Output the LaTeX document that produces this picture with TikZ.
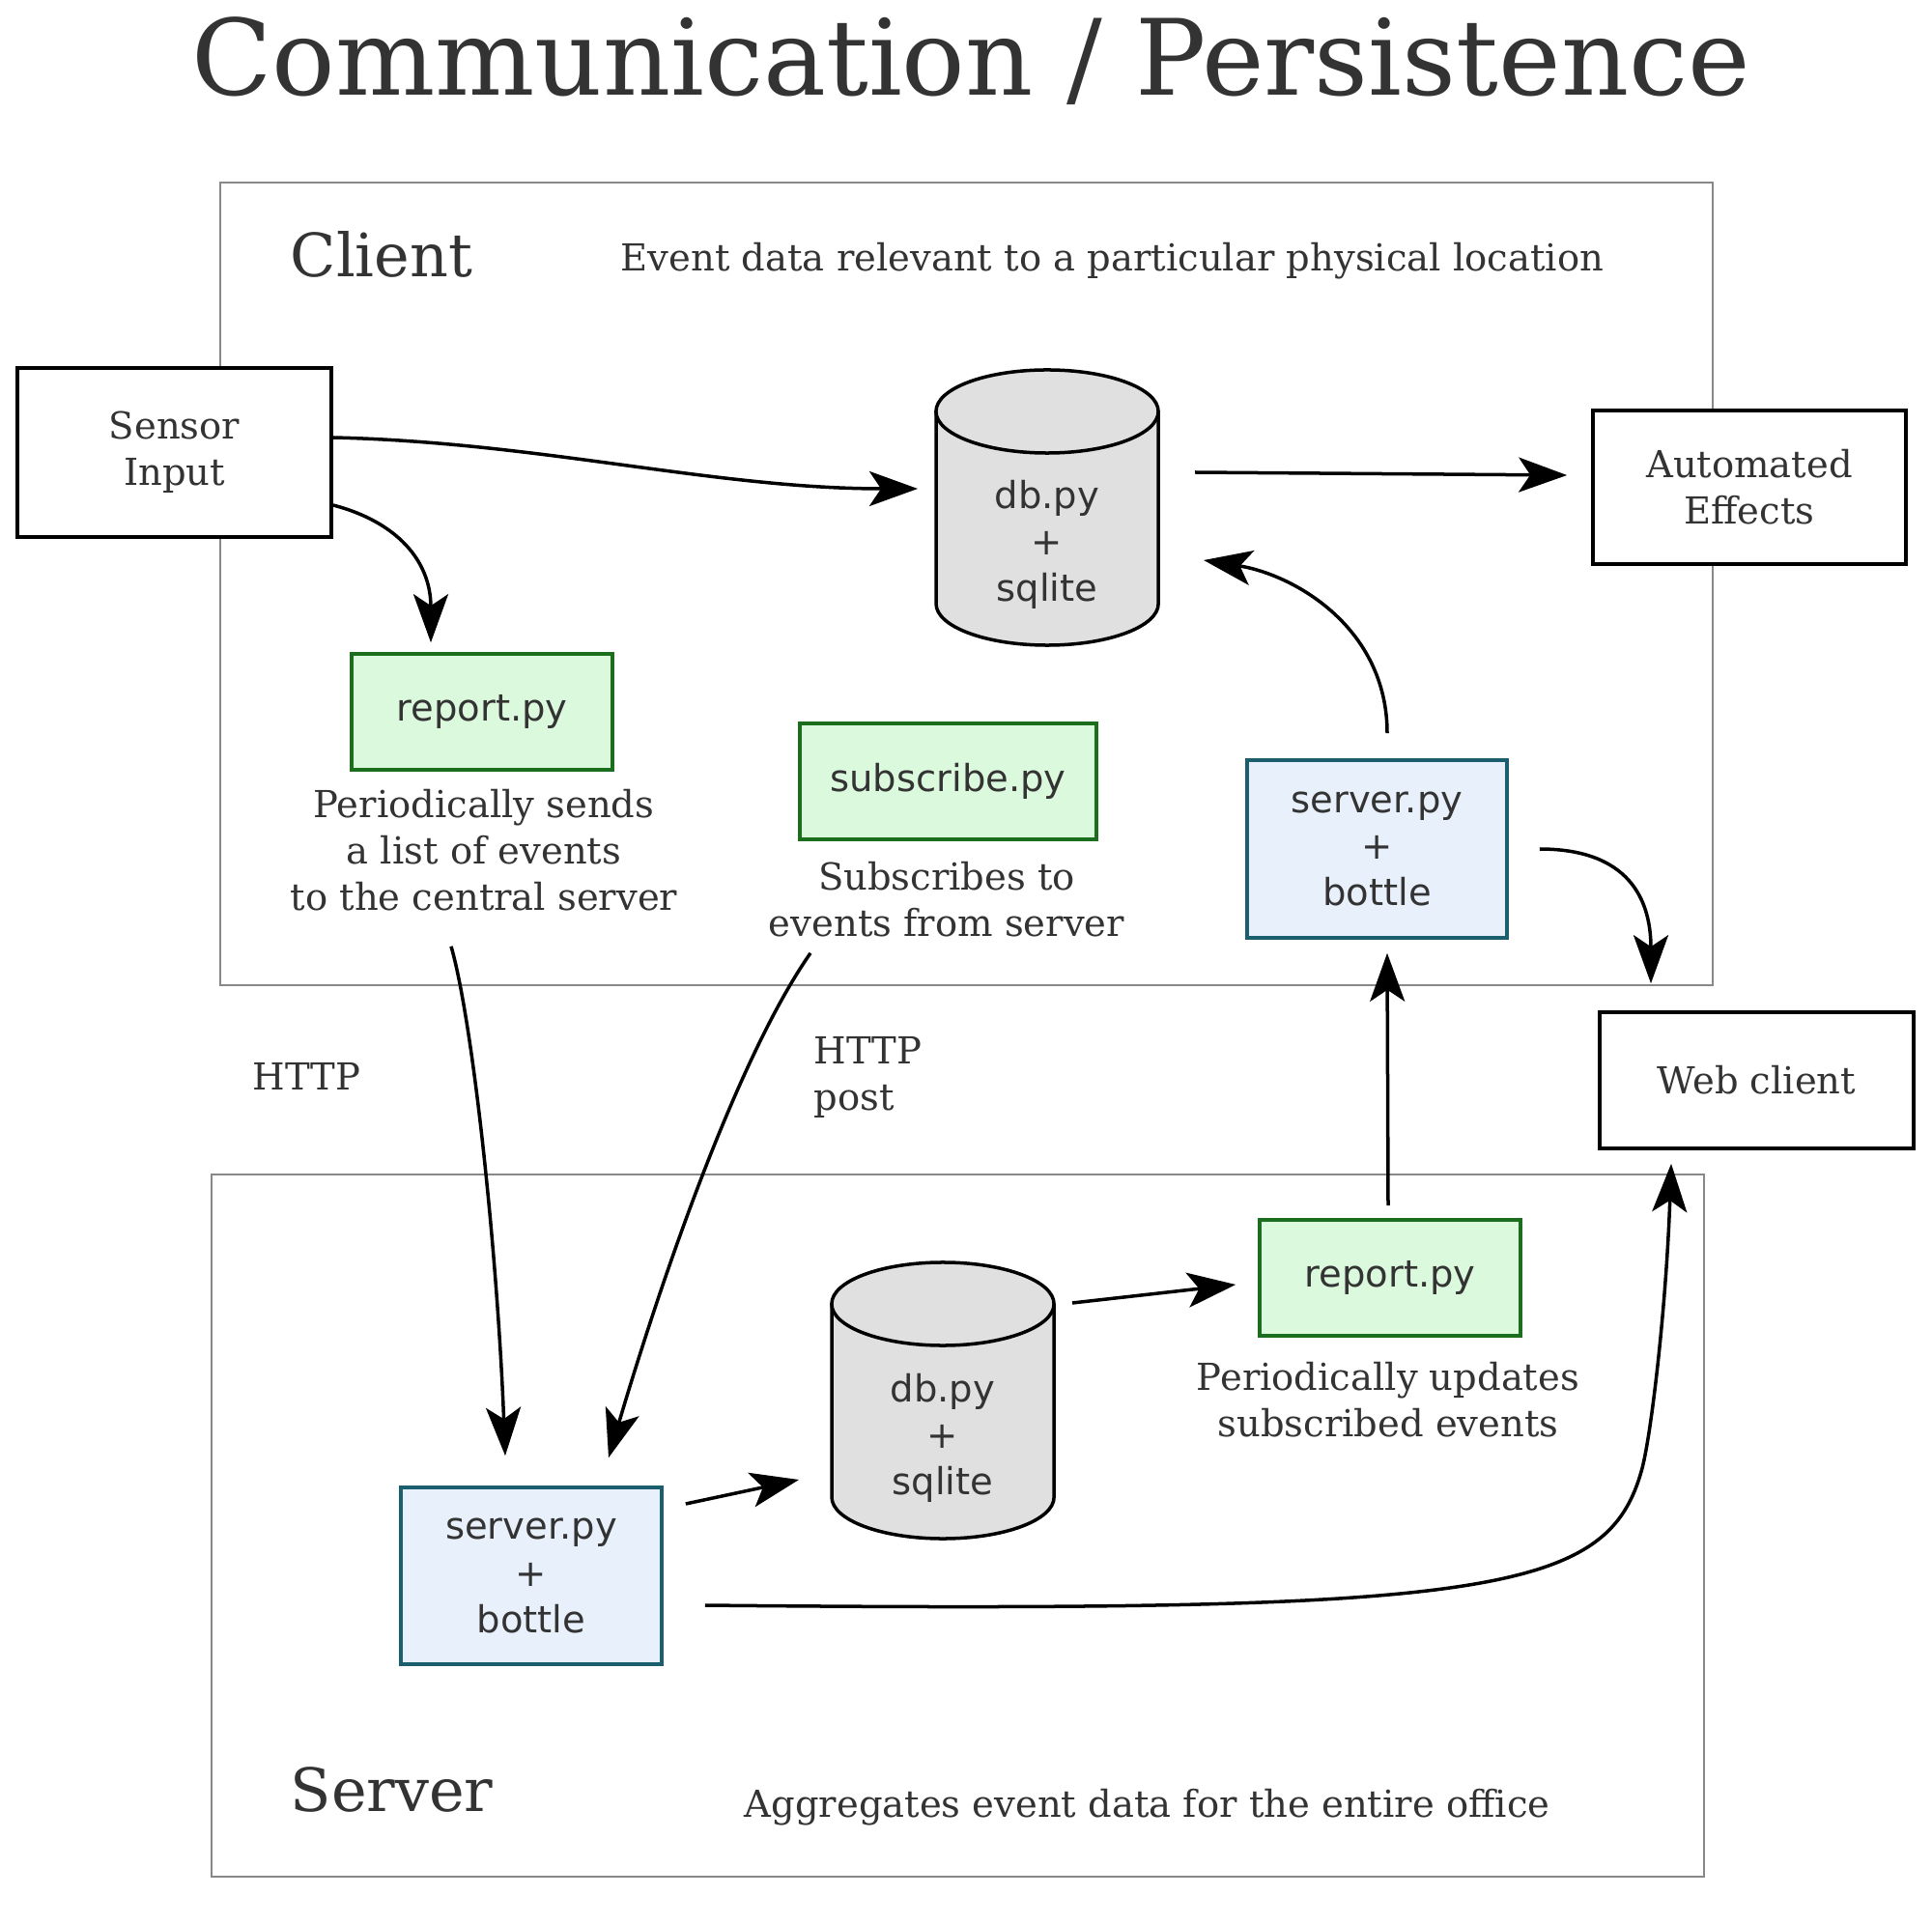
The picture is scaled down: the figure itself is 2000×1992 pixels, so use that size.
\documentclass[tikz,border=0pt]{standalone}
\usepackage{fontspec}
\setmainfont{DejaVu Serif}
\newfontfamily\boxfont{DejaVu Sans}
\usetikzlibrary{arrows.meta,calc}
\definecolor{txt}{HTML}{333333}
\definecolor{grpline}{HTML}{888888}
\definecolor{gfill}{HTML}{DBF9DC}
\definecolor{gline}{HTML}{1A6E1E}
\definecolor{bfill}{HTML}{E8F0FB}
\definecolor{bline}{HTML}{1B5E6E}
\definecolor{cylfill}{HTML}{E0E0E0}
\newcommand{\lblsize}{\fontsize{10.95pt}{13.66pt}\selectfont}
\newcommand{\titlesize}{\fontsize{31pt}{36pt}\selectfont}
\newcommand{\grpsize}{\fontsize{17.6pt}{21pt}\selectfont}
\begin{document}
\begin{tikzpicture}[x=0.01cm,y=-0.01cm,
  every node/.style={text=txt, inner sep=0pt},
  plainbox/.style={draw=black, line width=0.035cm, fill=white, align=center, font=\lblsize},
  greenbox/.style={draw=gline, fill=gfill, line width=0.035cm, align=center, font=\boxfont\lblsize, minimum width=2.70cm, minimum height=1.20cm},
  bluebox/.style={draw=bline, fill=bfill, line width=0.035cm, align=center, font=\boxfont\lblsize, minimum width=2.70cm, minimum height=1.84cm},
  cyltext/.style={align=center, font=\boxfont\lblsize},
  cylfillst/.style={fill=cylfill},
  cylline/.style={draw=black, line width=0.035cm},
  lbl/.style={align=center, font=\lblsize},
  conn/.style={line width=0.035cm, -{Stealth[length=0.5cm,width=0.36cm,inset=0.12cm]}},
  grp/.style={draw=grpline, line width=0.028cm},
]
\fill[white] (0,0) rectangle (2000,1992);
\useasboundingbox (0,0) rectangle (2000,1992);

% title
\node[font=\titlesize, anchor=base] (title) at (1005,99) {Communication / Persistence};

% groups
\draw[grp] (228,189) rectangle (1773,1020);
\draw[grp] (219,1216) rectangle (1764,1943);
\node[font=\grpsize, anchor=base west] (clientlbl) at (300,287) {Client};
\node[font=\lblsize, anchor=base west] (clientdesc) at (642,281) {Event data relevant to a particular physical location};
\node[font=\grpsize, anchor=base west] (serverlbl) at (300,1875) {Server};
\node[font=\lblsize, anchor=base west] (serverdesc) at (770,1881) {Aggregates event data for the entire office};

% plain boxes
\node[plainbox, minimum width=3.25cm, minimum height=1.75cm] (sensor) at (180.5,468.5) {Sensor\\Input};
\node[plainbox, minimum width=3.24cm, minimum height=1.59cm] (autoeff) at (1811,504.5) {Automated\\Effects};
\node[plainbox, minimum width=3.25cm, minimum height=1.41cm] (web) at (1818.5,1118.5) {Web client};

% client db cylinder
\fill[cylfillst] (969,426) rectangle (1199,625);
\fill[cylfillst] (1084,625) ellipse[x radius=1.15cm, y radius=0.43cm];
\draw[cylline] (969,426) -- (969,625) arc[start angle=180, end angle=360, x radius=1.15cm, y radius=0.43cm] -- (1199,426);
\filldraw[cylfillst, cylline] (1084,426) ellipse[x radius=1.15cm, y radius=0.43cm];
\node[cyltext] (cdb) at (1084,564) {db.py\\+\\sqlite};

% server db cylinder
\fill[cylfillst] (861,1350) rectangle (1091,1550);
\fill[cylfillst] (976,1550) ellipse[x radius=1.15cm, y radius=0.43cm];
\draw[cylline] (861,1350) -- (861,1550) arc[start angle=180, end angle=360, x radius=1.15cm, y radius=0.43cm] -- (1091,1350);
\filldraw[cylfillst, cylline] (976,1350) ellipse[x radius=1.15cm, y radius=0.43cm];
\node[cyltext] (sdb) at (976,1489) {db.py\\+\\sqlite};

% green / blue boxes
\node[greenbox] (creport) at (499,737) {report.py};
\node[greenbox, minimum width=3.07cm] (subscribe) at (981.5,809) {subscribe.py};
\node[bluebox, minimum width=2.69cm] (cserver) at (1425.5,879) {server.py\\+\\bottle};
\node[greenbox] (sreport) at (1439,1323) {report.py};
\node[bluebox, minimum height=1.83cm] (sserver) at (550,1631.5) {server.py\\+\\bottle};

% labels
\node[lbl] (creportlbl) at (501,880) {Periodically sends\\a list of events\\to the central server};
\node[lbl] (subscribelbl) at (980,931) {Subscribes to\\events from server};
\node[lbl] (sreportlbl) at (1437,1449) {Periodically updates\\subscribed events};
\node[lbl, anchor=west] (http) at (261,1114) {HTTP};
\node[lbl, anchor=west, align=left] (httppost) at (842,1115) {HTTP\\post};

% connectors
\draw[conn] ($(sensor.east)+(0,-15.5)$) .. controls (560,458) and (740,506) .. ($(cdb)+(-134,-58)$);
\draw[conn] ($(sensor.east)+(0,54.5)$) .. controls (410,540) and (446,580) .. ($(creport.north)+(-53,-10)$);
\draw[conn] ($(cdb)+(153,-75)$) -- ($(autoeff.west)+(-25,-12.5)$);
\draw[conn] ($(cserver.north)+(10.5,-26)$) .. controls (1436,650) and (1340,595) .. ($(cdb)+(162,16)$);
\draw[conn] ($(cserver.east)+(32,0)$) .. controls (1685,879) and (1709,930) .. ($(web.north)+(-109.5,-28)$);
\draw[conn] ($(creport.south)+(-32,181)$) .. controls (490,1060) and (515,1300) .. ($(sserver.north)+(-27,-31)$);
\draw[conn] ($(subscribe.south)+(-142.5,116)$) .. controls (760,1100) and (680,1340) .. ($(sserver.north)+(80,-29)$);
\draw[conn] ($(sreport.north)+(-2,-13)$) -- ($(cserver.south)+(10.5,14)$);
\draw[conn] ($(sserver.east)+(23,-74.5)$) -- ($(sdb)+(-149,43)$);
\draw[conn] ($(sdb)+(134,-140)$) -- ($(sreport.west)+(-23,7)$);
\draw[conn] ($(sserver.east)+(43,30.5)$) .. controls (1550,1670) and (1665,1650) .. (1700,1520) .. controls (1710,1481) and (1725,1350) .. ($(web.south)+(-88.5,14)$);
\end{tikzpicture}
\end{document}
